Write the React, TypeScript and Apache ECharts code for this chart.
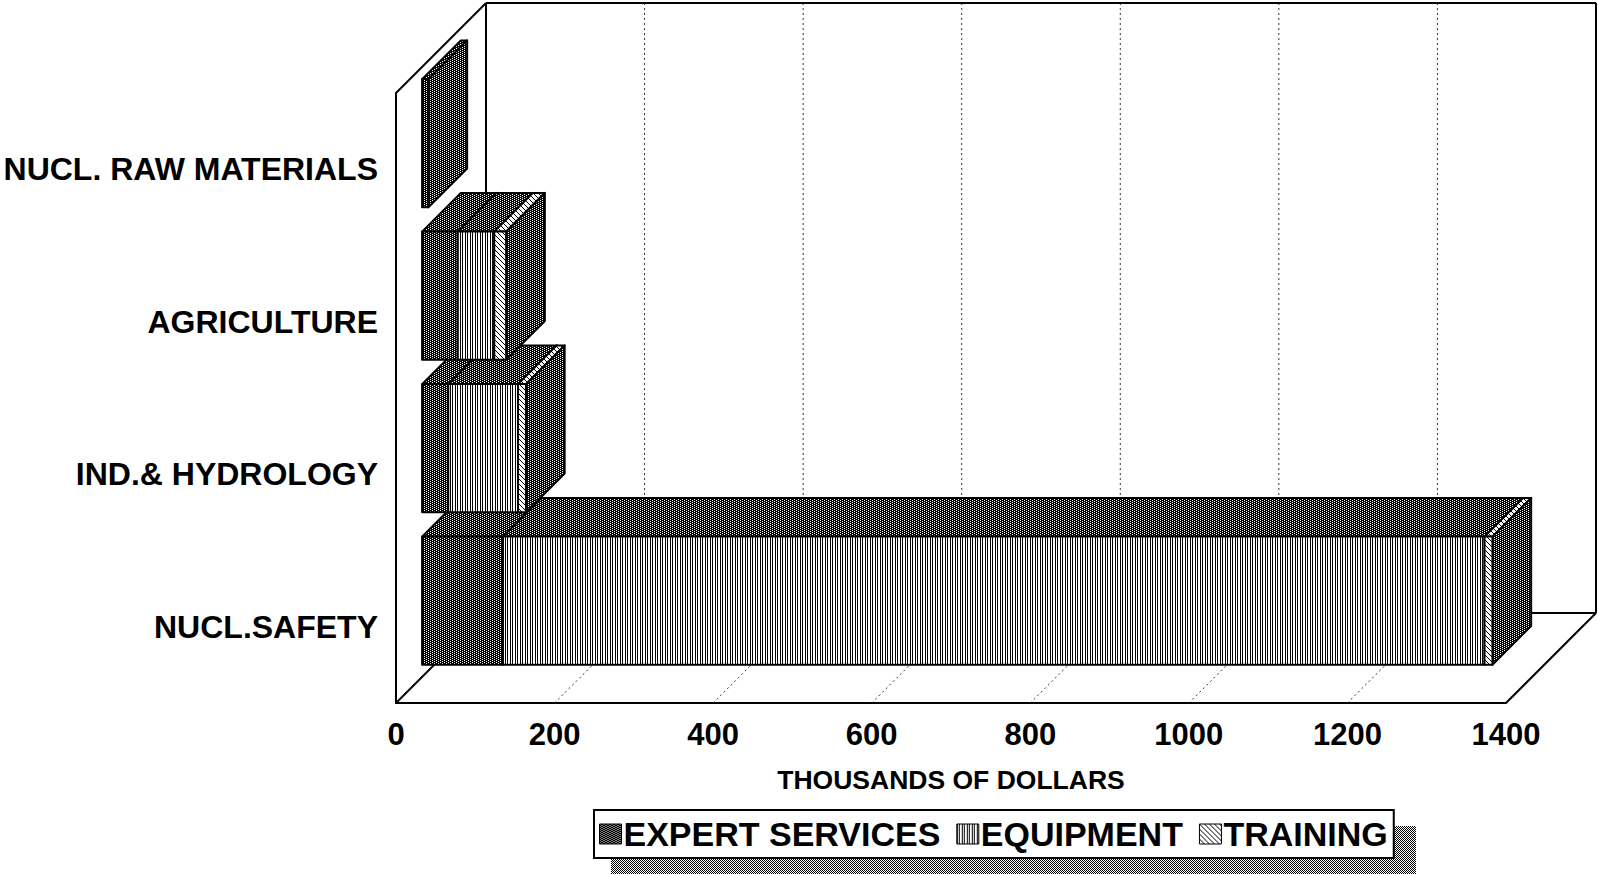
import React, { useEffect, useRef } from 'react';
import * as echarts from 'echarts';

const CATEGORIES = ['NUCL.SAFETY', 'IND.& HYDROLOGY', 'AGRICULTURE', 'NUCL. RAW MATERIALS'];
const SERIES_NAMES = ['EXPERT SERVICES', 'EQUIPMENT', 'TRAINING'];
const EXPERT_SERVICES = [102, 33, 45, 8];
const EQUIPMENT = [1238, 88, 46, 0];
const TRAINING = [10, 10, 15, 0];
const X_TICKS = [0, 200, 400, 600, 800, 1000, 1200, 1400];
const AXIS_TITLE = 'THOUSANDS OF DOLLARS';

const FONT = '"Liberation Sans", Arial, Helvetica, sans-serif';
const DX = 90;
const DY = 90;
const T0 = 0.29;
const T1 = 0.72;
const BAR_RATIO = 0.84;

function makeTile(w: number, h: number, draw: (ctx: CanvasRenderingContext2D) => void) {
  const c = document.createElement('canvas');
  c.width = w;
  c.height = h;
  const ctx = c.getContext('2d') as CanvasRenderingContext2D;
  draw(ctx);
  return { image: c, repeat: 'repeat', imageWidth: w, imageHeight: h } as any;
}

export default function App() {
  const ref = useRef<HTMLDivElement>(null);

  useEffect(() => {
    if (!ref.current) return;
    const chart = echarts.init(ref.current, null as any, { renderer: 'svg' });

    const dots = makeTile(4, 2, (ctx) => {
      ctx.fillStyle = '#000';
      ctx.fillRect(0, 0, 4, 2);
      ctx.fillStyle = '#fff';
      ctx.fillRect(0, 0, 1, 1);
      ctx.fillRect(2, 1, 1, 1);
    });
    const stripes = makeTile(5, 1, (ctx) => {
      ctx.fillStyle = '#fff';
      ctx.fillRect(0, 0, 5, 1);
      ctx.fillStyle = '#000';
      ctx.fillRect(0, 0, 1, 1);
      ctx.fillRect(2, 0, 1, 1);
    });
    const hatch = makeTile(5, 5, (ctx) => {
      ctx.fillStyle = '#fff';
      ctx.fillRect(0, 0, 5, 5);
      ctx.fillStyle = '#000';
      for (let i = 0; i < 5; i++) ctx.fillRect(i, i, 1, 1);
    });
    const shadow = makeTile(2, 2, (ctx) => {
      ctx.fillStyle = '#fff';
      ctx.fillRect(0, 0, 2, 2);
      ctx.fillStyle = '#000';
      ctx.fillRect(0, 0, 1, 1);
      ctx.fillRect(1, 1, 1, 1);
    });

    const FRONT_FILLS = [dots, stripes, hatch];
    const TOP_FILLS = [dots, dots, hatch];
    const SEGMENTS = [EXPERT_SERVICES, EQUIPMENT, TRAINING];

    const stackedData = (segIndex: number) =>
      CATEGORIES.map((_, c) => {
        let start = 0;
        for (let k = 0; k < segIndex; k++) start += SEGMENTS[k][c];
        return [start, start + SEGMENTS[segIndex][c], c];
      });

    const makeBarRender = (segIndex: number) => (params: any, api: any) => {
      const start = api.value(0);
      const end = api.value(1);
      const cat = api.value(2);
      if (end - start <= 0) return null;
      const a = api.coord([start, cat]);
      const b = api.coord([end, cat]);
      const band = api.size([0, 1])[1];
      const h = band * BAR_RATIO;
      const ox = DX * T0;
      const oy = DY * T0;
      const dx = DX * (T1 - T0);
      const dy = DY * (T1 - T0);
      const xl = a[0] + ox;
      const xr = b[0] + ox;
      const yt = a[1] - h / 2 - oy;
      const yb = a[1] + h / 2 - oy;
      const z2 = cat * 10 + segIndex;
      const edge = { stroke: '#000', lineWidth: 2, lineJoin: 'round' };
      return {
        type: 'group',
        children: [
          {
            type: 'polygon',
            z2,
            shape: { points: [[xl, yt], [xr, yt], [xr + dx, yt - dy], [xl + dx, yt - dy]] },
            style: { fill: TOP_FILLS[segIndex], ...edge },
          },
          {
            type: 'polygon',
            z2,
            shape: { points: [[xr, yt], [xr + dx, yt - dy], [xr + dx, yb - dy], [xr, yb]] },
            style: { fill: dots, ...edge },
          },
          {
            type: 'rect',
            z2,
            shape: { x: xl, y: yt, width: xr - xl, height: yb - yt },
            style: { fill: FRONT_FILLS[segIndex], ...edge },
          },
        ],
      };
    };

    const frameRender = (params: any, api: any) => {
      const cs = params.coordSys;
      const left = cs.x;
      const top = cs.y;
      const right = cs.x + cs.width;
      const bottom = cs.y + cs.height;
      const solid = { stroke: '#000', lineWidth: 2 };
      const dotted = { stroke: '#333', lineWidth: 1, lineDash: [2, 3] };
      const ln = (x1: number, y1: number, x2: number, y2: number, style: any) => ({
        type: 'line',
        shape: { x1, y1, x2, y2 },
        style,
      });
      const children: any[] = [];
      X_TICKS.slice(1, -1).forEach((v) => {
        const x = api.coord([v, 0])[0];
        children.push(ln(x + DX, top - DY, x + DX, bottom - DY, dotted));
        children.push(ln(x, bottom, x + DX, bottom - DY, dotted));
      });
      children.push(ln(left, top, left + DX, top - DY, solid));
      children.push(ln(left + DX, top - DY, right + DX, top - DY, solid));
      children.push(ln(left + DX, top - DY, left + DX, bottom - DY, solid));
      children.push(ln(right + DX, top - DY, right + DX, bottom - DY, solid));
      children.push(ln(left + DX, bottom - DY, right + DX, bottom - DY, solid));
      children.push(ln(left, bottom, left + DX, bottom - DY, solid));
      children.push(ln(right, bottom, right + DX, bottom - DY, solid));
      return { type: 'group', children };
    };

    const option: any = {
      animation: false,
      backgroundColor: '#fff',
      grid: { left: 396, top: 93, width: 1110, height: 610, containLabel: false },
      xAxis: {
        type: 'value',
        min: X_TICKS[0],
        max: X_TICKS[X_TICKS.length - 1],
        interval: 200,
        name: AXIS_TITLE,
        nameLocation: 'middle',
        nameGap: 63,
        nameTextStyle: { fontSize: 26.5, fontWeight: 'bold', color: '#000', fontFamily: FONT },
        axisLine: { show: true, lineStyle: { color: '#000', width: 2 } },
        axisTick: { show: false },
        splitLine: { show: false },
        axisLabel: {
          margin: 16,
          fontSize: 31,
          fontWeight: 'bold',
          color: '#000',
          fontFamily: FONT,
          formatter: (v: number) => String(v),
        },
      },
      yAxis: {
        type: 'category',
        data: CATEGORIES,
        axisLine: { show: true, lineStyle: { color: '#000', width: 2 } },
        axisTick: { show: false },
        splitLine: { show: false },
        axisLabel: { margin: 18, fontSize: 32, fontWeight: 'bold', color: '#000', fontFamily: FONT },
      },
      legend: {
        left: 594,
        top: 810,
        orient: 'horizontal',
        selectedMode: false,
        data: SERIES_NAMES.map((n, i) => ({
          name: n,
          icon: 'rect',
          itemStyle: { color: FRONT_FILLS[i], borderColor: '#000', borderWidth: 1 },
        })),
        itemWidth: 22,
        itemHeight: 20,
        itemGap: 16,
        padding: [7, 6, 7, 5],
        backgroundColor: '#fff',
        borderColor: '#000',
        borderWidth: 2,
        borderRadius: 0,
        textStyle: { fontSize: 34, fontWeight: 'bold', color: '#000', fontFamily: FONT, padding: [0, 0, 0, -3] },
      },
      graphic: [
        {
          type: 'rect',
          z: 0,
          shape: { x: 611, y: 826, width: 805, height: 48 },
          style: { fill: shadow },
        },
      ],
      series: [
        {
          type: 'custom',
          name: 'frame',
          z: 1,
          silent: true,
          data: [[0, 0]],
          encode: { x: 0, y: 1 },
          renderItem: frameRender,
        },
        ...SERIES_NAMES.map((name, i) => ({
          type: 'custom',
          name,
          z: 2,
          silent: true,
          dimensions: ['start', 'end', 'cat'],
          encode: { x: [0, 1], y: 2 },
          data: stackedData(i),
          renderItem: makeBarRender(i),
        })),
      ],
    };

    chart.setOption(option);
    return () => chart.dispose();
  }, []);

  return (
    <div
      ref={ref}
      style={{ position: 'fixed', left: 0, top: 0, width: 1598, height: 875, background: '#fff' }}
    />
  );
}
